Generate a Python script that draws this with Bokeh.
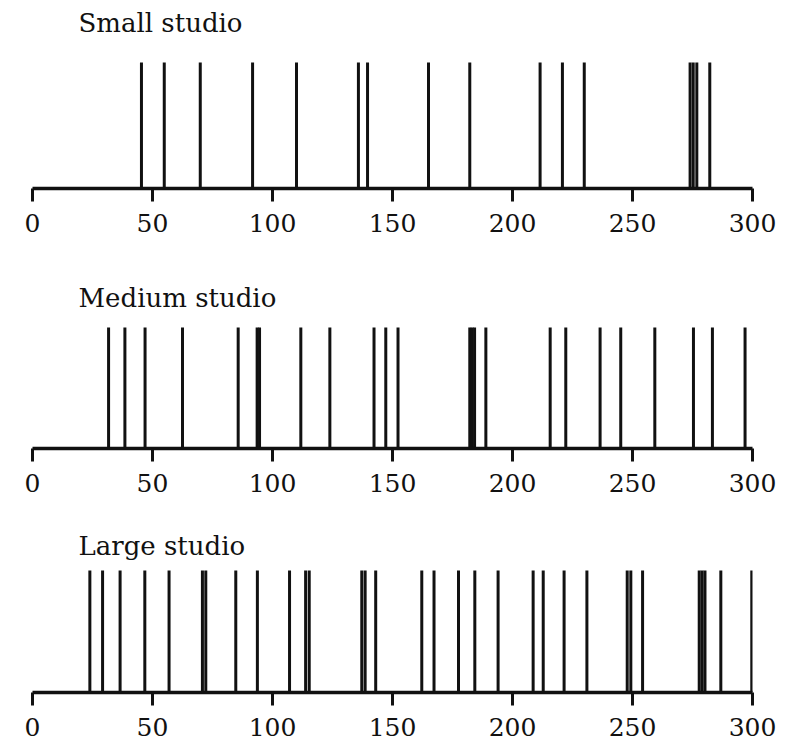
from bokeh.plotting import figure
from bokeh.layouts import column
from bokeh.models import Range1d, Label, FixedTicker, ColumnDataSource
from bokeh.embed import file_html
from bokeh.resources import INLINE

# Arrival times
small_times = [45.4, 54.9, 69.9, 91.7, 110.0, 135.8, 139.6, 165.0, 182.2,
               211.5, 220.8, 229.9, 274.0, 275.3, 276.8, 282.2]
medium_times = [31.7, 38.5, 46.9, 62.5, 85.7, 93.6, 94.6, 111.8, 123.9,
                142.3, 147.2, 152.3, 182.2, 183.2, 184.2, 188.9, 215.7, 222.2,
                236.5, 245.1, 259.3, 275.4, 283.3, 296.9]
large_times = [23.9, 29.2, 36.5, 46.8, 56.9, 70.8, 72.2, 84.7, 93.7, 107.1,
               113.8, 115.3, 137.2, 138.6, 143.0, 162.2, 167.3, 177.5, 184.3,
               194.0, 208.6, 212.8, 221.5, 231.0, 247.8, 249.3, 254.2, 277.8,
               279.0, 280.2, 286.8, 299.7]
titles = ["Small studio", "Medium studio", "Large studio"]
tick_values = [0, 50, 100, 150, 200, 250, 300]

FONT = "DejaVu Serif"
INK = "#111111"

# per-panel layout: (top border, frame height, y top of range, bottom border, title offset)
layouts = [(8, 180, 180 / 126, 62, 14),
           (0, 198, 198 / 121, 62, 47),
           (0, 182, 182 / 122, 48, 35)]

figs = []
for times, title, (tb, fh, ytop, bb, toff) in zip(
        [small_times, medium_times, large_times], titles, layouts):
    p = figure(width=780, height=tb + fh + bb, output_backend="svg",
               toolbar_location=None, y_axis_location=None,
               x_range=Range1d(0, 300), y_range=Range1d(0, ytop),
               min_border_left=32, min_border_right=28,
               min_border_top=tb, min_border_bottom=bb)
    p.outline_line_color = None
    p.grid.visible = False
    src = ColumnDataSource(dict(t=times, y0=[0] * len(times), y1=[1] * len(times)))
    p.segment(x0="t", y0="y0", x1="t", y1="y1", source=src,
              line_color=INK, line_width=3)
    ax = p.xaxis[0]
    ax.ticker = FixedTicker(ticks=tick_values)
    ax.axis_line_width = 3.5
    ax.axis_line_color = INK
    ax.major_tick_line_width = 3
    ax.major_tick_line_color = INK
    ax.major_tick_out = 13
    ax.major_tick_in = 0
    ax.minor_tick_line_color = None
    ax.major_label_standoff = 12
    ax.major_label_text_font = FONT
    ax.major_label_text_font_size = "25px"
    ax.major_label_text_color = INK
    p.add_layout(Label(x=0, y=ytop, x_offset=46, y_offset=-toff, text=title,
                       text_font=FONT, text_font_size="26px",
                       text_color=INK, text_baseline="middle"))
    figs.append(p)

layout = column(*figs, spacing=0)
open("out.html", "w").write(file_html(layout, INLINE))
